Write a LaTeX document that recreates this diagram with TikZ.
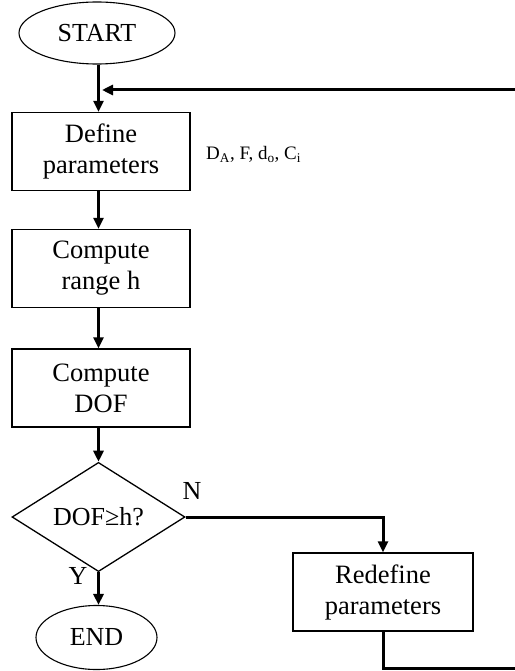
\documentclass[tikz,border=0pt]{standalone}
\usepackage{fontspec}
\setmainfont{Liberation Serif}
\usetikzlibrary{shapes.geometric,arrows.meta}
\tikzset{
  boxnode/.style={draw,line width=1.3pt,minimum width=178pt,minimum height=78pt,inner sep=0pt,align=center,font=\fontsize{26.5}{31}\selectfont},
  termnode/.style={draw,ellipse,line width=1.1pt,inner sep=0pt,font=\fontsize{26}{30}\selectfont},
  decnode/.style={draw,diamond,line width=1.3pt,minimum width=173pt,minimum height=99pt,inner sep=0pt,font=\fontsize{26}{30}\selectfont},
  flow/.style={line width=3pt,-{Triangle[length=11pt,width=10pt]}},
  flowline/.style={line width=3pt},
  lbl/.style={inner sep=0pt,font=\fontsize{26}{30}\selectfont}
}
\begin{document}
\begin{tikzpicture}[x=1pt,y=-1pt]
\useasboundingbox (0,0) rectangle (514,671);
\node[termnode,minimum width=156pt,minimum height=62pt] (start) at (97,33) {START};
\node[boxnode] (def) at (101,151.5) {Define\\parameters};
\node[boxnode] (rng) at (101,268.5) {Compute\\range h};
\node[boxnode] (dof) at (101,388) {Compute\\DOF};
\node[decnode] (dec) at (98.5,517) {DOF≥h?};
\node[boxnode,minimum width=180pt] (redef) at (383,592) {Redefine\\parameters};
\node[termnode,minimum width=121pt,minimum height=64pt] (end) at (96.5,637.5) {END};
\node[anchor=base west,inner sep=0pt,font=\fontsize{19}{22}\selectfont] (plist) at (206,160) {D\textsubscript{A}, F, d\textsubscript{o}, C\textsubscript{i}};
\node[lbl] (nlbl) at (192,491) {N};
\node[lbl] (ylbl) at (78,576) {Y};
\coordinate (join) at (102,90);
\coordinate (cb) at (517,668);
\coordinate (ct) at (517,90);
\draw[flow] (start.south -| dec.north) -- (dec.north |- def.north);
\draw[flow] (def.south -| dec.north) -- (dec.north |- rng.north);
\draw[flow] (rng.south -| dec.north) -- (dec.north |- dof.north);
\draw[flow] (dof.south -| dec.north) -- (dec.north);
\draw[flow] (dec.south) -- (dec.south |- end.north);
\draw[flow] (dec.east) -| (redef.north);
\draw[flowline] (redef.south) |- (cb) -- (ct);
\draw[flow] (ct) -- (join);
\end{tikzpicture}
\end{document}
